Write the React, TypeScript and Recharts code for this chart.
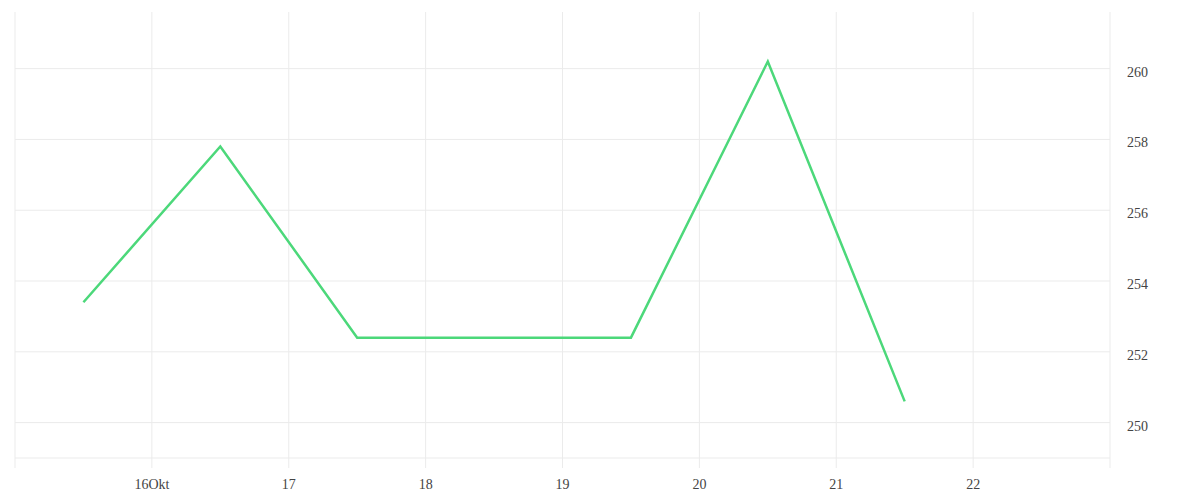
import { CartesianGrid, Line, LineChart, XAxis, YAxis } from "recharts";

// days of October, data sampled at noon
const DAYS = [15.5, 16.5, 17.5, 18.5, 19.5, 20.5, 21.5];
const VALUES = [253.4, 257.8, 252.4, 252.4, 252.4, 260.2, 250.6];

const X_TICKS = [15, 16, 17, 18, 19, 20, 21, 22, 23];
const Y_TICKS = [250, 252, 254, 256, 258, 260];

const GRID = "#ebebeb";
const TEXT = "#444444";
const LINE = "#4cd87a";
const FONT = "'Liberation Serif', serif";

const data = DAYS.map((d, i) => ({ day: d, value: VALUES[i] }));

function dayLabel(d: number) {
  if (d === 15 || d === 23) return "";
  return d === 16 ? "16Okt" : String(d);
}

export default function App() {
  return (
    <div style={{ position: "absolute", left: 0, top: 0 }}>
      <LineChart
        width={1200}
        height={500}
        data={data}
        margin={{ top: 12, right: 0, bottom: 0, left: 15 }}
      >
        <CartesianGrid stroke={GRID} strokeWidth={1} syncWithTicks />
        <XAxis
          type="number"
          dataKey="day"
          domain={[15, 23]}
          ticks={X_TICKS}
          tickFormatter={dayLabel}
          height={42}
          stroke={GRID}
          tickSize={10}
          tickMargin={11}
          tick={{ fill: TEXT, fontSize: 14, fontFamily: FONT }}
          allowDataOverflow
        />
        <YAxis
          orientation="right"
          type="number"
          domain={[249, 261.6]}
          ticks={Y_TICKS}
          width={90}
          axisLine={false}
          tickLine={false}
          tickSize={0}
          tickMargin={17}
          tick={{ fill: TEXT, fontSize: 14, fontFamily: FONT, dy: 3 }}
          allowDataOverflow
        />
        <Line
          type="linear"
          dataKey="value"
          stroke={LINE}
          strokeWidth={2.5}
          dot={false}
          activeDot={false}
          isAnimationActive={false}
        />
      </LineChart>
    </div>
  );
}
